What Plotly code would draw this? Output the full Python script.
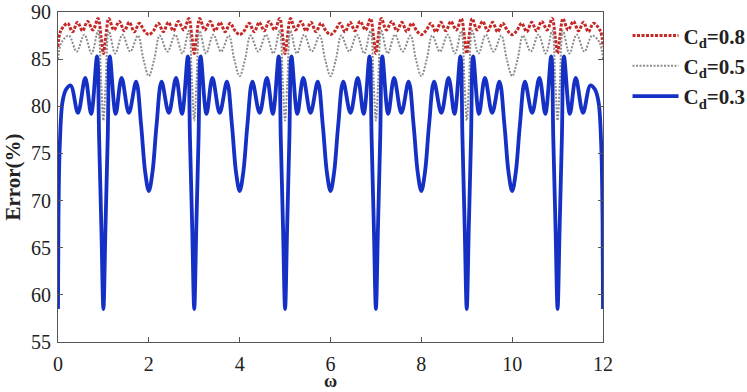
import plotly.graph_objects as go

# ---------------- data ----------------
blue_x = [
    0.00, 0.01, 0.04, 0.10, 0.18, 0.28, 0.44, 0.60, 0.73, 0.86, 0.905, 0.955,
    1.00, 1.045, 1.095, 1.14, 1.27, 1.40, 1.56, 1.72, 1.83, 1.92, 2.00, 2.08, 2.17, 2.28, 2.44, 2.60, 2.73, 2.86, 2.905, 2.955,
    3.00, 3.045, 3.095, 3.14, 3.27, 3.40, 3.56, 3.72, 3.83, 3.92, 4.00, 4.08, 4.17, 4.28, 4.44, 4.60, 4.73, 4.86, 4.905, 4.955,
    5.00, 5.045, 5.095, 5.14, 5.27, 5.40, 5.56, 5.72, 5.83, 5.92, 6.00, 6.08, 6.17, 6.28, 6.44, 6.60, 6.73, 6.86, 6.905, 6.955,
    7.00, 7.045, 7.095, 7.14, 7.27, 7.40, 7.56, 7.72, 7.83, 7.92, 8.00, 8.08, 8.17, 8.28, 8.44, 8.60, 8.73, 8.86, 8.905, 8.955,
    9.00, 9.045, 9.095, 9.14, 9.27, 9.40, 9.56, 9.72, 9.83, 9.92, 10.00, 10.08, 10.17, 10.28, 10.44, 10.60, 10.73, 10.86, 10.905, 10.955,
    11.00, 11.045, 11.095, 11.14, 11.27, 11.40, 11.56, 11.72, 11.82, 11.90, 11.96, 11.99, 12.00,
]
blue_y = [
    58.5, 68.0, 76.0, 80.5, 81.8, 82.2, 79.3, 83.0, 79.2, 85.3, 76.7, 67.1,
    58.5, 67.1, 76.7, 85.3, 79.2, 83.0, 79.3, 82.6, 78.0, 73.0, 71.0, 73.0, 78.0, 82.6, 79.3, 83.0, 79.2, 85.3, 76.7, 67.1,
    58.5, 67.1, 76.7, 85.3, 79.2, 83.0, 79.3, 82.6, 78.0, 73.0, 71.0, 73.0, 78.0, 82.6, 79.3, 83.0, 79.2, 85.3, 76.7, 67.1,
    58.5, 67.1, 76.7, 85.3, 79.2, 83.0, 79.3, 82.6, 78.0, 73.0, 71.0, 73.0, 78.0, 82.6, 79.3, 83.0, 79.2, 85.3, 76.7, 67.1,
    58.5, 67.1, 76.7, 85.3, 79.2, 83.0, 79.3, 82.6, 78.0, 73.0, 71.0, 73.0, 78.0, 82.6, 79.3, 83.0, 79.2, 85.3, 76.7, 67.1,
    58.5, 67.1, 76.7, 85.3, 79.2, 83.0, 79.3, 82.6, 78.0, 73.0, 71.0, 73.0, 78.0, 82.6, 79.3, 83.0, 79.2, 85.3, 76.7, 67.1,
    58.5, 67.1, 76.7, 85.3, 79.2, 83.0, 79.3, 82.2, 81.8, 80.5, 76.0, 68.0, 58.5,
]

red_x = [
    0.00, 0.06, 0.21, 0.32, 0.43, 0.54, 0.65, 0.77, 0.88, 0.95,
    1.00, 1.05, 1.12, 1.23, 1.35, 1.46, 1.57, 1.68, 1.79, 1.90, 2.00, 2.10, 2.21, 2.32, 2.43, 2.54, 2.65, 2.77, 2.88, 2.95,
    3.00, 3.05, 3.12, 3.23, 3.35, 3.46, 3.57, 3.68, 3.79, 3.90, 4.00, 4.10, 4.21, 4.32, 4.43, 4.54, 4.65, 4.77, 4.88, 4.95,
    5.00, 5.05, 5.12, 5.23, 5.35, 5.46, 5.57, 5.68, 5.79, 5.90, 6.00, 6.10, 6.21, 6.32, 6.43, 6.54, 6.65, 6.77, 6.88, 6.95,
    7.00, 7.05, 7.12, 7.23, 7.35, 7.46, 7.57, 7.68, 7.79, 7.90, 8.00, 8.10, 8.21, 8.32, 8.43, 8.54, 8.65, 8.77, 8.88, 8.95,
    9.00, 9.05, 9.12, 9.23, 9.35, 9.46, 9.57, 9.68, 9.79, 9.90, 10.00, 10.10, 10.21, 10.32, 10.43, 10.54, 10.65, 10.77, 10.88, 10.95,
    11.00, 11.05, 11.12, 11.23, 11.35, 11.46, 11.57, 11.68, 11.79, 11.94, 12.00,
]
red_y = [
    86.3, 88.0, 88.8, 87.9, 88.9, 88.0, 89.0, 88.1, 89.3, 87.3,
    85.6, 87.3, 89.3, 88.1, 89.0, 88.0, 88.9, 87.9, 88.8, 88.0, 87.6, 88.0, 88.8, 87.9, 88.9, 88.0, 89.0, 88.1, 89.3, 87.3,
    85.6, 87.3, 89.3, 88.1, 89.0, 88.0, 88.9, 87.9, 88.8, 88.0, 87.6, 88.0, 88.8, 87.9, 88.9, 88.0, 89.0, 88.1, 89.3, 87.3,
    85.6, 87.3, 89.3, 88.1, 89.0, 88.0, 88.9, 87.9, 88.8, 88.0, 87.6, 88.0, 88.8, 87.9, 88.9, 88.0, 89.0, 88.1, 89.3, 87.3,
    85.6, 87.3, 89.3, 88.1, 89.0, 88.0, 88.9, 87.9, 88.8, 88.0, 87.6, 88.0, 88.8, 87.9, 88.9, 88.0, 89.0, 88.1, 89.3, 87.3,
    85.6, 87.3, 89.3, 88.1, 89.0, 88.0, 88.9, 87.9, 88.8, 88.0, 87.6, 88.0, 88.8, 87.9, 88.9, 88.0, 89.0, 88.1, 89.3, 87.3,
    85.6, 87.3, 89.3, 88.1, 89.0, 88.0, 88.9, 87.9, 88.8, 88.0, 86.3,
]

gray_x = [
    0.00, 0.08, 0.24, 0.41, 0.58, 0.74, 0.88, 0.95,
    1.00, 1.05, 1.12, 1.26, 1.42, 1.59, 1.76, 1.88, 2.00, 2.12, 2.24, 2.41, 2.58, 2.74, 2.88, 2.95,
    3.00, 3.05, 3.12, 3.26, 3.42, 3.59, 3.76, 3.88, 4.00, 4.12, 4.24, 4.41, 4.58, 4.74, 4.88, 4.95,
    5.00, 5.05, 5.12, 5.26, 5.42, 5.59, 5.76, 5.88, 6.00, 6.12, 6.24, 6.41, 6.58, 6.74, 6.88, 6.95,
    7.00, 7.05, 7.12, 7.26, 7.42, 7.59, 7.76, 7.88, 8.00, 8.12, 8.24, 8.41, 8.58, 8.74, 8.88, 8.95,
    9.00, 9.05, 9.12, 9.26, 9.42, 9.59, 9.76, 9.88, 10.00, 10.12, 10.24, 10.41, 10.58, 10.74, 10.88, 10.95,
    11.00, 11.05, 11.12, 11.26, 11.42, 11.59, 11.76, 11.92, 12.00,
]
gray_y = [
    85.0, 86.8, 87.5, 85.8, 87.6, 85.6, 88.0, 82.5,
    78.5, 82.5, 88.0, 85.6, 87.6, 85.8, 87.5, 85.0, 83.2, 85.0, 87.5, 85.8, 87.6, 85.6, 88.0, 82.5,
    78.5, 82.5, 88.0, 85.6, 87.6, 85.8, 87.5, 85.0, 83.2, 85.0, 87.5, 85.8, 87.6, 85.6, 88.0, 82.5,
    78.5, 82.5, 88.0, 85.6, 87.6, 85.8, 87.5, 85.0, 83.2, 85.0, 87.5, 85.8, 87.6, 85.6, 88.0, 82.5,
    78.5, 82.5, 88.0, 85.6, 87.6, 85.8, 87.5, 85.0, 83.2, 85.0, 87.5, 85.8, 87.6, 85.6, 88.0, 82.5,
    78.5, 82.5, 88.0, 85.6, 87.6, 85.8, 87.5, 85.0, 83.2, 85.0, 87.5, 85.8, 87.6, 85.6, 88.0, 82.5,
    78.5, 82.5, 88.0, 85.6, 87.6, 85.8, 87.5, 86.8, 85.0,
]

series_names = ["<b>C<sub>d</sub>=0.8</b>", "<b>C<sub>d</sub>=0.5</b>", "<b>C<sub>d</sub>=0.3</b>"]
x_ticks = [0, 2, 4, 6, 8, 10, 12]
y_ticks = [55, 60, 65, 70, 75, 80, 85, 90]
x_title = "<b>ω</b>"
y_title = "<b>Error(%)</b>"

# ---------------- figure ----------------
FONT = "Liberation Serif, Times New Roman, serif"
fig = go.Figure()
fig.add_trace(go.Scatter(x=red_x, y=red_y, mode="lines", name=series_names[0],
                         line=dict(color="#c42a28", width=3, dash="3px,1.5px", shape="spline", smoothing=1)))
fig.add_trace(go.Scatter(x=gray_x, y=gray_y, mode="lines", name=series_names[1],
                         line=dict(color="#8c8c8c", width=2, dash="2px,1.5px", shape="spline", smoothing=1)))
fig.add_trace(go.Scatter(x=blue_x, y=blue_y, mode="lines", name=series_names[2],
                         line=dict(color="#1530c4", width=3.8, shape="spline", smoothing=1)))

axis_common = dict(showline=True, linecolor="#555", linewidth=1, mirror="ticks",
                   ticks="inside", ticklen=5, tickcolor="#555", showgrid=False, zeroline=False,
                   automargin=False,
                   tickfont=dict(family=FONT, size=20, color="#222"))
fig.update_xaxes(range=[0, 12], tickvals=x_ticks, ticklabelstandoff=4, **axis_common)
fig.update_yaxes(range=[55, 90], tickvals=y_ticks, ticklabelstandoff=2,
                 title=dict(text=y_title, font=dict(family=FONT, size=21, color="#222"), standoff=4),
                 **axis_common)

# x-axis title placed as an annotation, anchored to the bottom edge of the figure
fig.add_annotation(text=x_title, xref="paper", yref="paper", x=0.5, y=-0.1515,
                   xanchor="center", yanchor="bottom", showarrow=False,
                   height=17, valign="bottom", borderpad=0,
                   font=dict(family=FONT, size=18, color="#222"))

fig.update_layout(
    width=747, height=392,
    margin=dict(l=58, r=144, t=12, b=50, autoexpand=False),
    plot_bgcolor="white", paper_bgcolor="white",
    font=dict(family=FONT, color="#222"),
    legend=dict(x=1.045, y=0.99, xanchor="left", yanchor="top", itemwidth=46,
                font=dict(family=FONT, size=21, color="#222"),
                bgcolor="rgba(0,0,0,0)", tracegroupgap=0),
)

fig.write_html("out.html")
